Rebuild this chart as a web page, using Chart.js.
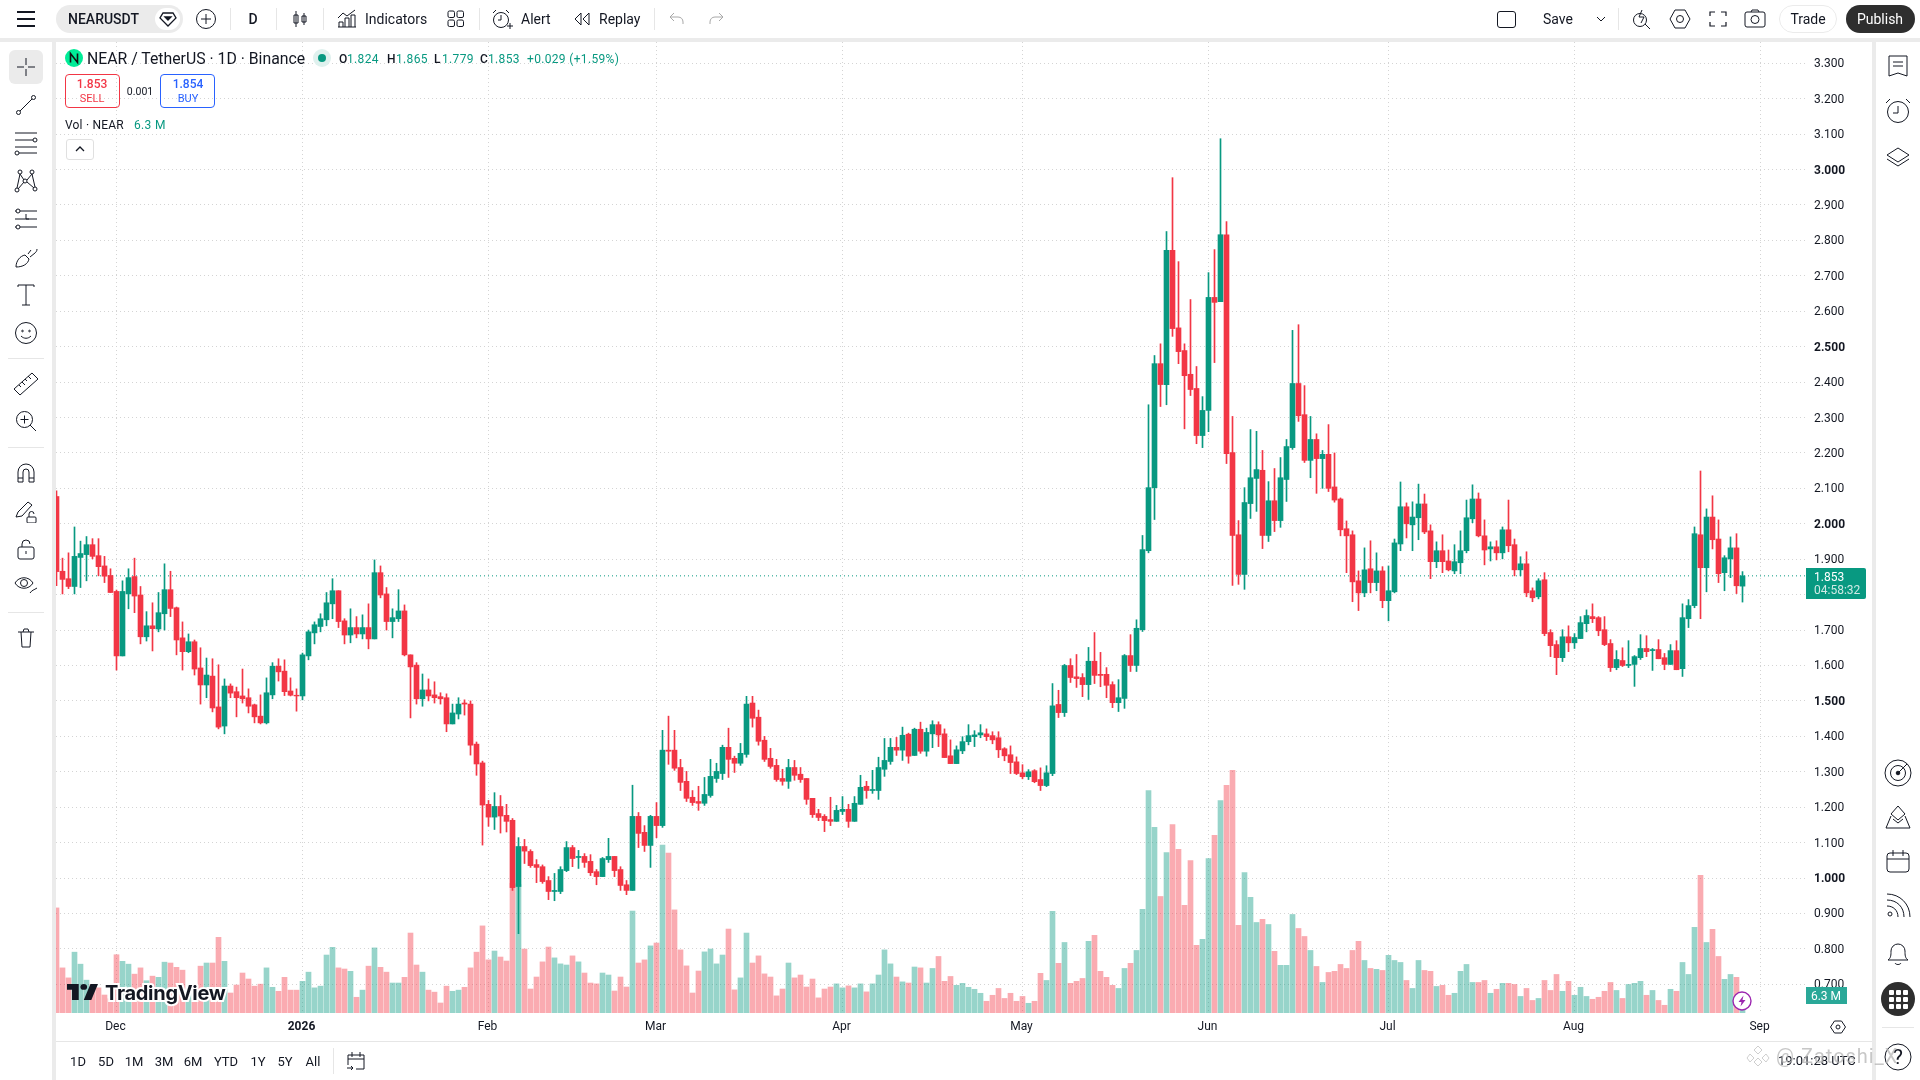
<!DOCTYPE html>
<html lang="en">
<head>
<meta charset="UTF-8">
<title>NEARUSDT</title>
<script src="https://cdn.jsdelivr.net/npm/chart.js"></script>
<style>
    html, body { margin: 0; padding: 0; background: #fff; }
    body { width: 1920px; height: 1080px; overflow: hidden; position: relative; font-family: Roboto, sans-serif; color: #131722; }
    canvas { position: absolute; left: 56px; top: 42px; }
    #ui { position: absolute; left: 0; top: 0; width: 1920px; height: 1080px; pointer-events: none; }
    #ui div, #ui svg { position: absolute; }
    .t { white-space: nowrap; transform: translateY(-50%); }
    .c { white-space: nowrap; transform: translate(-50%, -50%); }
</style>
</head>
<body>
<canvas id="chart" width="1816" height="999"></canvas>
<div id="ui"></div>

<script>
// daily candles, 21 Nov to 29 Aug
const opens = [
2.077,1.866,1.845,1.823,1.905,1.913,1.941,1.910,1.881,1.854,
1.809,1.627,1.802,1.851,1.799,1.681,1.712,1.703,1.746,1.814,
1.763,1.678,1.639,1.667,1.593,1.545,1.570,1.483,1.429,1.542,
1.526,1.514,1.509,1.489,1.457,1.438,1.517,1.598,1.584,1.528,
1.516,1.514,1.627,1.692,1.710,1.729,1.774,1.811,1.726,1.686,
1.707,1.689,1.707,1.675,1.862,1.802,1.724,1.732,1.754,1.630,
1.601,1.506,1.531,1.517,1.512,1.509,1.435,1.463,1.494,1.491,
1.378,1.325,1.208,1.172,1.202,1.177,1.163,0.976,1.089,1.075,
1.038,1.032,0.993,0.962,0.962,1.021,1.086,1.058,1.061,1.047,
1.018,1.004,1.052,1.061,1.024,0.981,0.965,1.174,1.129,1.092,
1.174,1.148,1.361,1.361,1.312,1.273,1.228,1.216,1.211,1.233,
1.281,1.295,1.369,1.338,1.324,1.349,1.494,1.454,1.389,1.338,
1.318,1.281,1.273,1.312,1.293,1.281,1.225,1.182,1.174,1.165,
1.160,1.188,1.194,1.160,1.208,1.259,1.247,1.247,1.307,1.329,
1.369,1.361,1.406,1.346,1.420,1.358,1.407,1.433,1.407,1.345,
1.323,1.359,1.385,1.399,1.404,1.407,1.402,1.396,1.365,1.348,
1.328,1.297,1.286,1.303,1.278,1.261,1.295,1.490,1.467,1.600,
1.568,1.566,1.546,1.612,1.575,1.575,1.546,1.495,1.507,1.628,
1.600,1.701,1.924,2.102,2.452,2.393,2.772,2.553,2.489,2.422,
2.382,2.249,2.320,2.639,2.627,2.816,2.201,1.969,1.857,2.057,
2.128,2.151,1.967,2.065,2.009,2.125,2.215,2.396,2.308,2.179,
2.238,2.184,2.196,2.104,2.070,1.986,1.969,1.839,1.805,1.873,
1.834,1.867,1.783,1.808,1.943,2.048,1.997,2.017,2.056,1.980,
1.893,1.924,1.895,1.867,1.890,1.924,2.014,2.070,1.966,1.929,
1.935,1.918,1.983,1.941,1.870,1.887,1.811,1.794,1.842,1.693,
1.659,1.622,1.681,1.664,1.676,1.718,1.738,1.735,1.701,1.662,
1.594,1.614,1.600,1.603,1.622,1.648,1.642,1.645,1.622,1.603,
1.642,1.591,1.732,1.769,1.969,1.876,2.019,1.957,1.862,1.901,
1.932,1.824];
const closes = [
1.865,1.843,1.823,1.908,1.916,1.941,1.908,1.879,1.852,1.806,
1.627,1.809,1.848,1.796,1.681,1.712,1.704,1.749,1.814,1.761,
1.672,1.639,1.667,1.590,1.545,1.573,1.480,1.426,1.542,1.522,
1.509,1.506,1.485,1.455,1.438,1.523,1.598,1.582,1.526,1.516,
1.514,1.630,1.695,1.715,1.732,1.777,1.811,1.724,1.686,1.707,
1.689,1.707,1.675,1.862,1.799,1.724,1.735,1.754,1.630,1.596,
1.506,1.531,1.514,1.509,1.506,1.435,1.466,1.491,1.491,1.375,
1.322,1.206,1.172,1.202,1.175,1.160,0.973,1.089,1.076,1.035,
1.030,0.990,0.962,0.965,1.024,1.086,1.055,1.061,1.044,1.015,
1.004,1.055,1.061,1.021,0.979,0.965,1.174,1.126,1.092,1.174,
1.148,1.361,1.358,1.310,1.270,1.225,1.213,1.211,1.236,1.287,
1.301,1.369,1.335,1.324,1.352,1.491,1.451,1.386,1.335,1.315,
1.278,1.273,1.312,1.290,1.278,1.222,1.179,1.171,1.162,1.160,
1.191,1.194,1.160,1.211,1.256,1.247,1.250,1.312,1.332,1.369,
1.361,1.403,1.344,1.420,1.358,1.411,1.433,1.404,1.340,1.323,
1.362,1.385,1.402,1.404,1.410,1.399,1.390,1.362,1.345,1.326,
1.295,1.286,1.300,1.272,1.261,1.297,1.486,1.467,1.600,1.566,
1.563,1.546,1.612,1.572,1.572,1.544,1.495,1.509,1.628,1.600,
1.705,1.927,2.102,2.452,2.393,2.772,2.551,2.486,2.418,2.379,
2.249,2.320,2.639,2.625,2.816,2.198,1.967,1.857,2.060,2.130,
2.153,1.967,2.065,2.009,2.130,2.218,2.396,2.305,2.179,2.238,
2.184,2.196,2.100,2.067,1.983,1.966,1.836,1.805,1.870,1.834,
1.867,1.783,1.811,1.946,2.048,2.000,2.019,2.056,1.977,1.893,
1.924,1.893,1.870,1.893,1.924,2.017,2.070,1.966,1.926,1.935,
1.918,1.983,1.938,1.870,1.887,1.805,1.791,1.839,1.690,1.656,
1.622,1.681,1.664,1.679,1.721,1.741,1.732,1.698,1.659,1.594,
1.617,1.600,1.603,1.625,1.648,1.639,1.645,1.619,1.603,1.642,
1.588,1.735,1.769,1.972,1.876,2.019,1.955,1.859,1.904,1.932,
1.825,1.853];
const highs = [
2.093,1.903,1.918,1.991,1.951,1.964,1.958,1.958,1.908,1.873,
1.813,1.839,1.873,1.903,1.823,1.752,1.777,1.806,1.887,1.866,
1.765,1.723,1.689,1.672,1.650,1.621,1.619,1.602,1.562,1.548,
1.539,1.590,1.534,1.491,1.517,1.565,1.608,1.619,1.616,1.565,
1.534,1.635,1.700,1.723,1.746,1.806,1.845,1.811,1.732,1.760,
1.738,1.743,1.774,1.898,1.881,1.820,1.760,1.814,1.771,1.630,
1.608,1.576,1.562,1.554,1.523,1.520,1.491,1.509,1.503,1.500,
1.384,1.330,1.219,1.241,1.233,1.208,1.168,1.114,1.109,1.080,
1.052,1.037,1.004,1.013,1.032,1.103,1.092,1.078,1.069,1.066,
1.024,1.058,1.112,1.061,1.032,0.993,1.262,1.185,1.148,1.177,
1.213,1.417,1.457,1.417,1.335,1.301,1.247,1.259,1.284,1.335,
1.324,1.375,1.423,1.344,1.380,1.513,1.513,1.474,1.400,1.366,
1.335,1.307,1.335,1.332,1.312,1.281,1.225,1.194,1.179,1.228,
1.205,1.230,1.208,1.230,1.290,1.273,1.304,1.341,1.394,1.394,
1.397,1.426,1.409,1.423,1.440,1.423,1.444,1.441,1.421,1.390,
1.373,1.399,1.433,1.416,1.433,1.421,1.413,1.413,1.368,1.373,
1.342,1.320,1.306,1.306,1.311,1.317,1.549,1.530,1.603,1.619,
1.631,1.577,1.651,1.693,1.637,1.594,1.554,1.560,1.631,1.687,
1.729,1.967,2.336,2.475,2.508,2.825,2.977,2.740,2.508,2.633,
2.444,2.359,2.709,2.774,3.087,2.853,2.303,2.009,2.102,2.266,
2.261,2.207,2.119,2.156,2.187,2.238,2.546,2.562,2.390,2.303,
2.254,2.207,2.280,2.200,2.073,2.008,1.980,1.867,1.932,1.952,
1.918,1.879,1.881,1.957,2.118,2.059,2.062,2.112,2.084,1.997,
1.949,1.969,1.926,1.941,1.980,2.067,2.110,2.087,2.011,1.949,
1.952,1.991,2.067,1.957,1.907,1.921,1.819,1.845,1.862,1.701,
1.670,1.701,1.712,1.690,1.738,1.757,1.774,1.738,1.738,1.673,
1.642,1.650,1.670,1.628,1.687,1.684,1.648,1.673,1.634,1.659,
1.670,1.774,1.786,1.991,2.149,2.042,2.079,2.011,1.910,1.963,
1.972,1.865];
const lows = [
1.825,1.802,1.817,1.802,1.820,1.839,1.901,1.853,1.834,1.806,
1.587,1.627,1.760,1.749,1.661,1.669,1.641,1.695,1.700,1.738,
1.630,1.587,1.636,1.573,1.491,1.509,1.469,1.421,1.407,1.509,
1.455,1.494,1.466,1.438,1.435,1.435,1.506,1.556,1.515,1.514,
1.471,1.503,1.616,1.661,1.695,1.712,1.732,1.707,1.661,1.664,
1.678,1.675,1.647,1.675,1.791,1.700,1.678,1.724,1.627,1.452,
1.491,1.485,1.500,1.494,1.491,1.413,1.435,1.449,1.460,1.347,
1.290,1.093,1.146,1.137,1.127,1.130,0.965,0.843,1.041,1.030,
0.987,0.985,0.939,0.936,0.956,1.018,1.032,1.027,1.030,1.007,
0.981,1.004,1.044,1.004,0.965,0.953,0.965,1.086,1.075,1.030,
1.114,1.143,1.321,1.304,1.247,1.216,1.205,1.191,1.205,1.228,
1.270,1.278,1.284,1.298,1.318,1.341,1.426,1.375,1.329,1.310,
1.273,1.262,1.253,1.276,1.270,1.208,1.171,1.162,1.131,1.148,
1.160,1.179,1.143,1.160,1.208,1.225,1.239,1.222,1.287,1.321,
1.346,1.332,1.324,1.346,1.352,1.344,1.368,1.371,1.340,1.323,
1.323,1.351,1.376,1.371,1.396,1.388,1.379,1.340,1.331,1.295,
1.292,1.280,1.278,1.269,1.247,1.258,1.289,1.453,1.456,1.552,
1.538,1.512,1.504,1.549,1.540,1.509,1.481,1.470,1.479,1.583,
1.583,1.696,1.918,2.012,2.331,2.336,2.529,2.452,2.268,2.362,
2.226,2.215,2.260,2.455,2.627,2.170,1.826,1.829,1.815,2.015,
2.035,1.930,1.950,1.978,1.990,2.063,2.210,2.289,2.173,2.130,
2.086,2.100,2.091,2.061,1.966,1.862,1.780,1.755,1.794,1.805,
1.811,1.763,1.726,1.805,1.924,1.960,1.924,1.955,1.972,1.845,
1.876,1.862,1.867,1.859,1.859,1.918,2.003,1.963,1.884,1.895,
1.898,1.901,1.921,1.853,1.853,1.794,1.780,1.788,1.684,1.625,
1.574,1.611,1.639,1.648,1.676,1.695,1.721,1.684,1.656,1.583,
1.588,1.597,1.594,1.541,1.617,1.625,1.586,1.619,1.588,1.603,
1.588,1.569,1.707,1.763,1.732,1.808,1.929,1.834,1.811,1.848,
1.803,1.779];
// volume in millions of NEAR
const volumes = [
36.8,15.8,12.3,21.3,17.1,11.5,10,8.8,6.3,5,
20.4,18.1,17.1,13.6,15.8,11.3,12.9,12.5,17.8,17.5,
16,15,6.9,5,16.4,17.5,17.5,26.5,18.1,7,
9.8,14,11.9,9.4,10.1,15.8,9,7.6,12.5,8,
8,11.1,14.3,8.8,9.4,20.3,23,15.8,15.4,14.6,
5.5,8,16.4,22.8,16,14.3,10.5,10.5,12.5,28,
16.8,14.3,8,7.3,3.5,9.4,7.6,8,9,15.8,
21.3,30.5,18.6,21.7,19.6,18.2,45.4,45,22.4,8.4,
12.6,17.9,23.1,19.3,17.2,16.8,20,17.9,14,10.5,
10.2,14,13.3,7.7,12.6,9.1,35.7,17.5,18.6,23.5,
24.5,58.8,56,36.1,22.1,16.5,7,14.7,21.4,22.4,
17.2,20.3,29.4,8.1,12.3,28,17.5,20,13.7,12.6,
6,8.4,17.5,12.3,13.3,9.1,11.9,5.3,8.4,9.1,
10.2,8.8,9.5,8.8,10.2,7.4,10.2,13.3,22.1,17.2,
12.6,10.9,10.5,16.1,15.8,10.5,15.6,19.8,11.1,12.8,
9.7,10.4,9,8.3,6.9,4.1,6.2,8.6,5.1,6.9,
4.1,5.8,3.4,4.1,13.9,11.4,35.6,17.4,24.7,10.4,
11.1,12.1,25.1,27.2,14.6,12.5,9.7,8.6,15.6,17.4,
21.9,36.3,77.9,65,40.8,56.2,66,57.3,37.7,53.4,
23.7,25.8,54.1,62.2,74.4,79.7,85,30.7,49.2,40.5,
31.7,32.8,31,21.6,16.7,16.7,34.5,29.6,26.8,21.9,
16.3,10.7,14.2,14.6,17,15.6,21.9,25.1,18.4,15.6,
15.3,14.9,20.2,18.4,17.7,11.4,8.6,18.4,14.9,14.6,
9.3,9.7,6.2,6.9,14.6,17,10.7,10.7,11.4,6.9,
8.3,10.4,10.4,10,5.8,8.6,4.4,5.1,11.4,7.9,
13.5,7.6,11.1,6.2,9,5.8,4.8,5.5,7.6,10.7,
7.9,5.1,10,10.4,11.1,6.2,7.9,4.4,2.7,8.3,
7.6,17.7,13.5,30,48.2,24.7,29.3,19.8,11.8,13.5,
12.5,6.3];
const monthBars = [10, 41, 72, 100, 131, 161, 192, 222, 253, 284];
const monthLabels = ["Dec", "2026", "Feb", "Mar", "Apr", "May", "Jun", "Jul", "Aug", "Sep"];
const priceTicks = [0.7,0.8,0.9,1.0,1.1,1.2,1.3,1.4,1.5,1.6,1.7,1.8,1.9,2.0,2.1,2.2,2.3,2.4,2.5,2.6,2.7,2.8,2.9,3.0,3.1,3.2,3.3];
const boldTicks = [1.0, 1.5, 2.0, 2.5, 3.0];
const lastPrice = 1.853;

const UP = "#089981", DOWN = "#f23645";
const UP_VOL = "rgba(8,153,129,.42)", DOWN_VOL = "rgba(242,54,69,.42)";
const GRID = "#d4d4d4";
const barDir = opens.map((o, i) => closes[i] >= o);
const xMin = -1 / 12, xMax = xMin + 1749 / 6;

new Chart(document.getElementById("chart"), {
    data: {
        datasets: [
            {
                type: "bar", label: "body", order: 1, grouped: false, barThickness: 5, xAxisID: "x", yAxisID: "y",
                data: opens.map((o, i) => ({ x: i, y: [o, closes[i]] })),
                backgroundColor: barDir.map(up => up ? UP : DOWN)
            },
            {
                type: "bar", label: "wick", order: 2, grouped: false, barThickness: 1, xAxisID: "x", yAxisID: "y",
                data: lows.map((l, i) => ({ x: i, y: [l, highs[i]] })),
                backgroundColor: barDir.map(up => up ? UP : DOWN)
            },
            {
                type: "line", label: "last", order: 3, xAxisID: "x", yAxisID: "y",
                data: [{ x: xMin, y: lastPrice }, { x: xMax, y: lastPrice }],
                borderColor: UP, borderWidth: 1, borderDash: [1, 3], pointRadius: 0
            },
            {
                type: "bar", label: "volume", order: 4, grouped: false, barThickness: 5, xAxisID: "x", yAxisID: "vol",
                data: volumes.map((v, i) => ({ x: i, y: v })),
                backgroundColor: barDir.map(up => up ? UP_VOL : DOWN_VOL)
            }
        ]
    },
    options: {
        responsive: false,
        animation: false,
        events: [],
        layout: { padding: 0 },
        plugins: { legend: { display: false }, tooltip: { enabled: false } },
        scales: {
            x: {
                type: "linear", offset: false, min: xMin, max: xMax,
                grid: { color: GRID, offset: false, drawTicks: false },
                border: { display: false, dash: [1, 3] },
                afterBuildTicks: s => { s.ticks = monthBars.map(v => ({ value: v })); },
                afterFit: s => { s.height = 28; s.paddingLeft = 0; s.paddingRight = 0; },
                ticks: {
                    autoSkip: false, maxRotation: 0, padding: 7, labelOffset: -1, color: "#131722",
                    font: ctx => ({ family: "Roboto", size: 12, weight: ctx.tick && ctx.tick.value === 41 ? "700" : "400" }),
                    callback: v => monthLabels[monthBars.indexOf(v)]
                }
            },
            y: {
                position: "right", min: 0.619, max: 3.36,
                grid: { color: GRID, drawTicks: false },
                border: { display: false, dash: [1, 3] },
                afterBuildTicks: s => { s.ticks = priceTicks.map(v => ({ value: v })); },
                afterFit: s => { s.width = 67; s.paddingTop = 0; s.paddingBottom = 0; },
                ticks: {
                    padding: 9, labelOffset: 1, color: "#131722",
                    font: ctx => ({ family: "Roboto", size: 12, weight: ctx.tick && boldTicks.includes(ctx.tick.value) ? "700" : "400" }),
                    callback: v => v.toFixed(3)
                }
            },
            vol: { display: false, min: 0, max: 340 }
        }
    }
});

// toolbars and legend around the chart
const ui = document.getElementById("ui");
const put = h => ui.insertAdjacentHTML("beforeend", h);
const txt = (x, y, s, css = "") => put(`<div class="t" style="left:${x}px;top:${y}px;${css}">${s}</div>`);
const mid = (x, y, s, css = "") => put(`<div class="c" style="left:${x}px;top:${y}px;${css}">${s}</div>`);
const box = (x, y, w, h, css) => put(`<div style="left:${x}px;top:${y}px;width:${w}px;height:${h}px;box-sizing:border-box;${css}"></div>`);
const icon = (cx, cy, s, body, sw = 1) => put(`<svg style="left:${cx - s / 2}px;top:${cy - s / 2}px" width="${s}" height="${s}" viewBox="0 0 ${s} ${s}" fill="none" stroke="#131722" stroke-width="${sw}">${body}</svg>`);

box(0, 38, 1920, 4, "background:#ebebeb");
box(52, 42, 4, 1038, "background:#ebebeb");
box(1872, 42, 4, 1038, "background:#ebebeb");
box(56, 1041, 1816, 1, "background:#e6e6e6");

// top bar, left part
icon(26, 19, 20, '<path d="M1 3h18M1 10h18M1 17h18"/>', 2);
box(56, 5, 127, 28, "background:#ebebeb;border-radius:14px");
txt(68, 19, "NEARUSDT", "font-size:14px;font-weight:500");
box(155, 8, 25, 22, "background:#fff;border-radius:11px");
icon(168, 19, 18, '<path d="M4 3h10l3 5-8 8-8-8z"/><path d="M6 7l3 3 3-3z" fill="#131722"/>', 1.3);
icon(206, 19, 20, '<circle cx="10" cy="10" r="9.5"/><path d="M10 5v10M5 10h10"/>');
for (const x of [230, 276, 323, 479, 654, 1618]) box(x, 8, 1, 22, "background:#e6e6e6");
mid(253, 19, "D", "font-size:14px;font-weight:500");
icon(300, 19, 20, '<path d="M6 2v16M14 4v12M4 6h4v8H4zM12 7h4v6h-4z"/>');
icon(347, 19, 20, '<path d="M1 18h18M2 18v-5h4v5M8 18V9h4v9M14 18V6h4v12M1 9l5-5 4 3 8-6"/>');
txt(365, 19, "Indicators", "font-size:14px");
icon(456, 19, 18, '<rect x="1" y="1" width="6.5" height="6.5" rx="1.5"/><rect x="10" y="1" width="6.5" height="6.5" rx="1.5"/><rect x="1" y="10" width="6.5" height="6.5" rx="1.5"/><rect x="10" y="10" width="6.5" height="6.5" rx="1.5"/>');
icon(502, 19, 22, '<circle cx="10" cy="12" r="7.5"/><path d="M10 7v5h-3M2 5l3-3M18 5l-3-3M16 18h6M19 15v6"/>');
txt(521, 19, "Alert", "font-size:14px");
icon(582, 19, 18, '<path d="M8 3L2 9l6 6zM16 3l-6 6 6 6z"/>');
txt(599, 19, "Replay", "font-size:14px");
icon(677, 19, 16, '<path d="M5 2L1 6l4 4M1 6h8c3 0 5 2 5 5v2" stroke="#a8a8a8"/>');
icon(716, 19, 16, '<path d="M11 2l4 4-4 4M15 6H7c-3 0-5 2-5 5v2" stroke="#a8a8a8"/>');

// top bar, right part
box(1497, 11, 19, 17, "border:1.3px solid #131722;border-radius:3px");
txt(1543, 19, "Save", "font-size:14px");
icon(1601, 19, 10, '<path d="M1 3l4 4 4-4"/>');
icon(1642, 19, 20, '<circle cx="8" cy="11" r="6.5"/><path d="M13 15l5 5M10 1L7 8h5l-3 6"/>');
icon(1680, 19, 22, '<path d="M6 2h10l5 9-5 9H6l-5-9z"/><circle cx="11" cy="11" r="3.5"/>');
icon(1718, 19, 18, '<path d="M1 6V2h5M12 2h5v4M17 12v4h-5M6 16H1v-4"/>', 1.2);
icon(1755, 19, 22, '<rect x="1" y="4" width="20" height="15" rx="2"/><circle cx="11" cy="11.5" r="4"/><path d="M7 4l1-2h6l1 2"/>');
box(1779, 5, 58, 28, "border:1px solid #ebebeb;border-radius:14px");
mid(1808, 19, "Trade", "font-size:14px");
box(1846, 5, 69, 28, "background:#2e2e2e;border-radius:14px");
mid(1880, 19, "Publish", "font-size:14px;color:#fff");

// legend
put('<svg style="left:65px;top:49px" width="18" height="18" viewBox="0 0 18 18"><circle cx="9" cy="9" r="9" fill="#00ec97"/><path d="M5.5 13.5v-9l7 9v-9" fill="none" stroke="#111" stroke-width="1.6"/></svg>');
txt(87, 58, "NEAR / TetherUS · 1D · Binance", "font-size:15.8px");
put('<svg style="left:313px;top:49px" width="18" height="18" viewBox="0 0 18 18"><circle cx="9" cy="9" r="9" fill="#dff1ee"/><circle cx="9" cy="9" r="4" fill="#089981"/></svg>');
const G = "color:#089981;font-size:12px;letter-spacing:.33px";
for (const [x, s] of [[339, "O"], [387, "H"], [434, "L"], [480, "C"]]) txt(x, 59, s, "font-size:12px;font-weight:500");
for (const [x, s] of [[347, "1.824"], [396, "1.865"], [442, "1.779"], [488, "1.853"], [527, "+0.029 (+1.59%)"]]) txt(x, 59, s, G);
box(65, 74, 55, 34, "border:1px solid #f23645;border-radius:4px");
mid(92, 84, "1.853", "font-size:12px;font-weight:500;color:#f23645");
mid(92, 98, "SELL", "font-size:11px;color:#f23645");
mid(140, 91, "0.001", "font-size:10.5px");
box(160, 74, 55, 34, "border:1px solid #2962ff;border-radius:4px");
mid(188, 84, "1.854", "font-size:12px;font-weight:500;color:#2962ff");
mid(188, 98, "BUY", "font-size:11px;color:#2962ff");
txt(65, 125, "Vol · NEAR", "font-size:12px;letter-spacing:.2px");
txt(134, 125, "6.3 M", G);
box(66, 139, 28, 21, "background:#fff;border:1px solid #e0e0e0;border-radius:3px");
icon(80, 149, 10, '<path d="M1 7l4-4 4 4"/>', 1.3);

// price labels sitting on the axis
box(1806, 568, 60, 31, "background:#089981;border-radius:0 2px 2px 0");
txt(1814, 577, "1.853", "font-size:12px;color:#fff");
txt(1814, 590, "04:58:32", "font-size:12px;color:#cfeae5");
box(1806, 987, 41, 17, "background:#2aa898");
mid(1826, 995.5, "6.3 M", "font-size:12px;color:#fff");
put('<svg style="left:1732px;top:991px" width="20" height="20" viewBox="0 0 20 20"><circle cx="10" cy="10" r="9" fill="#fff" stroke="#9c27b0" stroke-width="1.4"/><path d="M11.5 4.5L6.5 11h3l-1 4.5 5-6.5h-3z" fill="#9c27b0"/></svg>');

// watermark logo
put('<svg style="left:67px;top:984px" width="31" height="16" viewBox="0 6 37 22" preserveAspectRatio="none"><path d="M14 6H0v8h6v14h8zM28 6l-8 22h9l8-22z" fill="#131722"/><circle cx="20" cy="10" r="4" fill="#131722"/></svg>');
txt(105, 993, "TradingView", "font-family:Inter,Roboto;font-size:20px;font-weight:700;letter-spacing:-.3px;-webkit-text-stroke:4px #fff;paint-order:stroke fill");

// left toolbar
box(9, 50, 34, 34, "background:#ebebeb;border-radius:6px");
icon(26, 67, 24, '<path d="M12 3v7M12 14v7M3 12h7M14 12h7"/>');
icon(26, 105, 22, '<circle cx="3.5" cy="18.5" r="2"/><circle cx="18.5" cy="3.5" r="2"/><path d="M5 17L17 5"/>');
icon(26, 143, 26, '<path d="M2 3h22M2 10h18M2 17h22M6 23h18"/><circle cx="22" cy="10" r="2"/><circle cx="4" cy="23" r="2"/>');
icon(26, 181, 24, '<circle cx="6" cy="3" r="2"/><circle cx="18" cy="3" r="2"/><circle cx="3" cy="21" r="2"/><circle cx="21" cy="20" r="2"/><circle cx="11" cy="12" r="2"/><path d="M6 5L3 19M6 5l4 6M18 5l-5 6M18 5l3 13M4 20l6-7M13 13l7 6"/>');
icon(26, 219, 26, '<path d="M2 5h22M2 13h22M2 21h22"/><circle cx="5" cy="5" r="2" fill="#fff"/><circle cx="5" cy="21" r="2" fill="#fff"/><path d="M13 8v5h3"/>');
icon(26, 257, 26, '<path d="M3 23c0-6 4-11 9-12l4 4c-1 5-6 8-13 8zM15 10l3-4M17 13l5-4c1-1 2-2 2-4"/>');
icon(26, 295, 24, '<path d="M4 4V2h16v2M12 2v20M8 22h8"/>');
icon(26, 333, 24, '<circle cx="12" cy="12" r="10.5"/><circle cx="8.5" cy="10" r=".8"/><circle cx="15.5" cy="10" r=".8"/><path d="M7 15c3 3 7 3 10 0"/>');
box(8, 358, 36, 1, "background:#e6e6e6");
icon(26, 383, 28, '<path d="M2 20L20 4l6 6L8 26zM7 16l2 2M10 13l3 3M13 10l2 2M16 7l3 3"/>');
icon(26, 421, 22, '<circle cx="9.5" cy="9.5" r="8"/><path d="M15 15l6 6M9.5 5.5v8M5.5 9.5h8"/>');
box(8, 447, 36, 1, "background:#e6e6e6");
icon(26, 473, 22, '<path d="M3 20V10a8 8 0 0 1 16 0v10h-5V10a3 3 0 0 0-6 0v10zM3 16h5M14 16h5"/>');
icon(26, 511, 24, '<path d="M2 18l2-5L14 3l4 3L8 17zM15 18v-3a2.5 2.5 0 0 1 5 0"/><rect x="13" y="18" width="9" height="6" rx="1"/>');
icon(26, 549, 22, '<path d="M7 9V6a4 4 0 0 1 8 0"/><rect x="3" y="9" width="16" height="12" rx="2"/><path d="M11 13v3"/>');
icon(26, 585, 26, '<path d="M2 11c4-7 14-7 18 0-4 7-14 7-18 0z"/><circle cx="11" cy="11" r="3.5"/><path d="M17 21c2-3 4-3 7-5"/>');
box(8, 612, 36, 1, "background:#e6e6e6");
icon(26, 638, 22, '<path d="M3 5h16M6 5l1 15h8l1-15M8 5l1-3h4l1 3"/>');

// right toolbar
icon(1898, 66, 24, '<path d="M3 2h18v20l-9-3-9 3zM7 8h10M7 12h10"/>');
icon(1898, 111, 28, '<circle cx="14" cy="15" r="10.5"/><path d="M14 9v7h-5M2 6l4-4M26 6l-4-4"/>');
icon(1898, 157, 26, '<path d="M13 4l11 7-11 7-11-7zM2 15l11 7 11-7"/>');
icon(1898, 773, 28, '<circle cx="14" cy="14" r="13"/><circle cx="14" cy="14" r="7.5"/><circle cx="14" cy="14" r="1.8" fill="#131722"/><path d="M14 14l9-9"/>');
icon(1898, 817, 26, '<path d="M13 2l7 8-7 6-7-6zM6 12L1 24h24l-5-12M8 15l5 4 5-4"/>');
icon(1898, 861, 26, '<rect x="2" y="5" width="22" height="19" rx="3"/><path d="M2 11h22M8 2v6M18 2v6"/>');
icon(1898, 906, 26, '<circle cx="5" cy="21" r="2"/><path d="M2 13c6 0 11 4 11 11M2 7c10 0 17 7 17 17M2 1c13 0 23 10 23 23"/>');
icon(1898, 953, 26, '<path d="M3 20c3-2 3-5 3-9a7 7 0 0 1 14 0c0 4 0 7 3 9zM10 23c1 2 5 2 6 0"/>');
put('<svg style="left:1881px;top:982px" width="34" height="34" viewBox="0 0 34 34"><circle cx="17" cy="17" r="17" fill="#2e2e2e"/><g fill="#fff"><rect x="8" y="8" width="5" height="5" rx="1"/><rect x="15" y="8" width="5" height="5" rx="1"/><rect x="22" y="8" width="5" height="5" rx="1"/><rect x="8" y="15" width="5" height="5" rx="1"/><rect x="15" y="15" width="5" height="5" rx="1"/><rect x="22" y="15" width="5" height="5" rx="1"/><rect x="8" y="22" width="5" height="5" rx="1"/><rect x="15" y="22" width="5" height="5" rx="1"/><rect x="22" y="22" width="5" height="5" rx="1"/></g></svg>');
box(1882, 1027, 32, 1, "background:#e6e6e6");
icon(1898, 1057, 28, '<circle cx="14" cy="14" r="13"/>');
mid(1898, 1057, "?", "font-size:21px");

// axis corner and range bar
icon(1838, 1027, 16, '<path d="M4.5 2h7l4 6-4 6h-7l-4-6z"/><circle cx="8" cy="8" r="2"/>');
const rangeX = [78, 106, 134, 164, 193, 226, 258, 285, 313];
["1D", "5D", "1M", "3M", "6M", "YTD", "1Y", "5Y", "All"].forEach((s, i) => mid(rangeX[i], 1061, s, "font-size:13px"));
box(333, 1048, 1, 26, "background:#e6e6e6");
icon(356, 1061, 20, '<path d="M2 14V4h16v14H10M2 8h16M6 1v5M14 1v5M1 17h6M5 15l2 2-2 2"/>');
txt(1778, 1060, "19:01:28 UTC", "font-size:13px");
txt(1776, 1056, "@ Zatoshi_X", "font-size:20px;color:rgba(180,180,180,.75);letter-spacing:1px");
icon(1758, 1056, 24, '<path d="M12 2l4 4-4 4-4-4zM4 10l4 4-4 4-3-4zM20 10l3 4-3 4-4-4zM12 14l4 4-4 4-4-4z" stroke="#cfcfcf"/>');
</script>
</body>
</html>
